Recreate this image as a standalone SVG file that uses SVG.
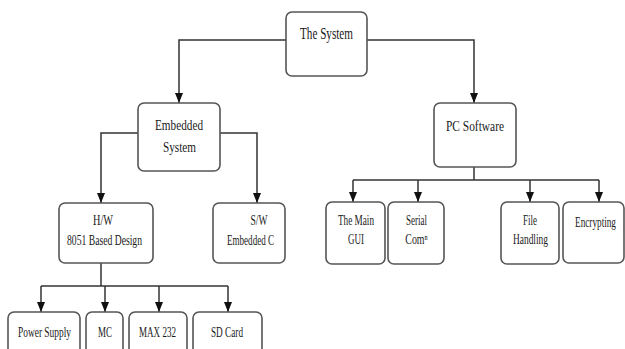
<svg xmlns="http://www.w3.org/2000/svg" width="625" height="349" viewBox="0 0 625 349">
<defs>
<marker id="arr" markerWidth="10" markerHeight="8" refX="10" refY="4" orient="auto" markerUnits="userSpaceOnUse" viewBox="0 0 10 8">
<path d="M0,0 L10,4 L0,8 Z" fill="#111"/>
</marker>
<style>
.box{fill:#fff;stroke:#555;stroke-width:1.6}
.t{font-family:"Liberation Serif","Times New Roman",serif;font-size:15px;fill:#1a1a1a;text-anchor:middle}
.c{fill:none;stroke:#333;stroke-width:1.5}
</style>
</defs>
<rect width="625" height="349" fill="#fff"/>
<g id="connectors">
<path class="c" d="M286,40 H179 V103" marker-end="url(#arr)"/>
<path class="c" d="M367,40 H474 V103" marker-end="url(#arr)"/>
<path class="c" d="M138,133 H101 V203" marker-end="url(#arr)"/>
<path class="c" d="M220,133 H257 V203" marker-end="url(#arr)"/>
<path class="c" d="M101,263 V286"/>
<path class="c" d="M41,286 H228"/>
<path class="c" d="M41,286 V312" marker-end="url(#arr)"/>
<path class="c" d="M105,286 V312" marker-end="url(#arr)"/>
<path class="c" d="M159,286 V312" marker-end="url(#arr)"/>
<path class="c" d="M228,286 V312" marker-end="url(#arr)"/>
<path class="c" d="M474,167 V180"/>
<path class="c" d="M353,180 H599"/>
<path class="c" d="M353,180 V202" marker-end="url(#arr)"/>
<path class="c" d="M418,180 V202" marker-end="url(#arr)"/>
<path class="c" d="M530,180 V202" marker-end="url(#arr)"/>
<path class="c" d="M599,180 V202" marker-end="url(#arr)"/>
</g>
<g id="the-system">
<rect class="box" x="286" y="12" width="81" height="64" rx="6"/>
<text class="t" x="326.5" y="39" style="font-size:17px" textLength="53" lengthAdjust="spacingAndGlyphs">The System</text>
</g>
<g id="embedded-system">
<rect class="box" x="138" y="103" width="82" height="68" rx="6"/>
<text class="t" x="179" y="130" textLength="48" lengthAdjust="spacingAndGlyphs">Embedded</text>
<text class="t" x="179.5" y="152" textLength="33" lengthAdjust="spacingAndGlyphs">System</text>
</g>
<g id="pc-software">
<rect class="box" x="434" y="103" width="82" height="64" rx="6"/>
<text class="t" x="475" y="131" textLength="58" lengthAdjust="spacingAndGlyphs">PC Software</text>
</g>
<g id="hw">
<rect class="box" x="59" y="203" width="94" height="60" rx="6"/>
<text class="t" x="103" y="225" textLength="20" lengthAdjust="spacingAndGlyphs">H/W</text>
<text class="t" x="104.5" y="245" textLength="75" lengthAdjust="spacingAndGlyphs">8051 Based Design</text>
</g>
<g id="sw">
<rect class="box" x="213" y="203" width="72" height="60" rx="6"/>
<text class="t" x="259" y="225" textLength="17" lengthAdjust="spacingAndGlyphs">S/W</text>
<text class="t" x="250.5" y="245" textLength="47" lengthAdjust="spacingAndGlyphs">Embedded C</text>
</g>
<g id="power-supply">
<rect class="box" x="8" y="312" width="72" height="50" rx="6"/>
<text class="t" transform="translate(44.5,337) scale(0.627,1)">Power Supply</text>
</g>
<g id="mc">
<rect class="box" x="86" y="312" width="37" height="50" rx="6"/>
<text class="t" transform="translate(105,337) scale(0.6,1)">MC</text>
</g>
<g id="max232">
<rect class="box" x="129" y="312" width="58" height="50" rx="6"/>
<text class="t" x="157.5" y="337" textLength="37" lengthAdjust="spacingAndGlyphs">MAX 232</text>
</g>
<g id="sd-card">
<rect class="box" x="193" y="312" width="69" height="50" rx="6"/>
<text class="t" x="227" y="337" textLength="32" lengthAdjust="spacingAndGlyphs">SD Card</text>
</g>
<g id="main-gui">
<rect class="box" x="326" y="202" width="59" height="62" rx="6"/>
<text class="t" x="356" y="225" textLength="36" lengthAdjust="spacingAndGlyphs">The Main</text>
<text class="t" x="356" y="244" textLength="16" lengthAdjust="spacingAndGlyphs">GUI</text>
</g>
<g id="serial-com">
<rect class="box" x="388" y="202" width="56" height="62" rx="6"/>
<text class="t" x="416.5" y="225" textLength="21" lengthAdjust="spacingAndGlyphs">Serial</text>
<text class="t" transform="translate(416.5,244) scale(0.66,1)">Comⁿ</text>
</g>
<g id="file-handling">
<rect class="box" x="501" y="202" width="58" height="62" rx="6"/>
<text class="t" x="530" y="225" textLength="14" lengthAdjust="spacingAndGlyphs">File</text>
<text class="t" x="530.5" y="244" textLength="35" lengthAdjust="spacingAndGlyphs">Handling</text>
</g>
<g id="encrypting">
<rect class="box" x="563" y="202" width="61" height="61" rx="6"/>
<text class="t" transform="translate(595.5,227) scale(0.615,1)">Encrypting</text>
</g>
</svg>
